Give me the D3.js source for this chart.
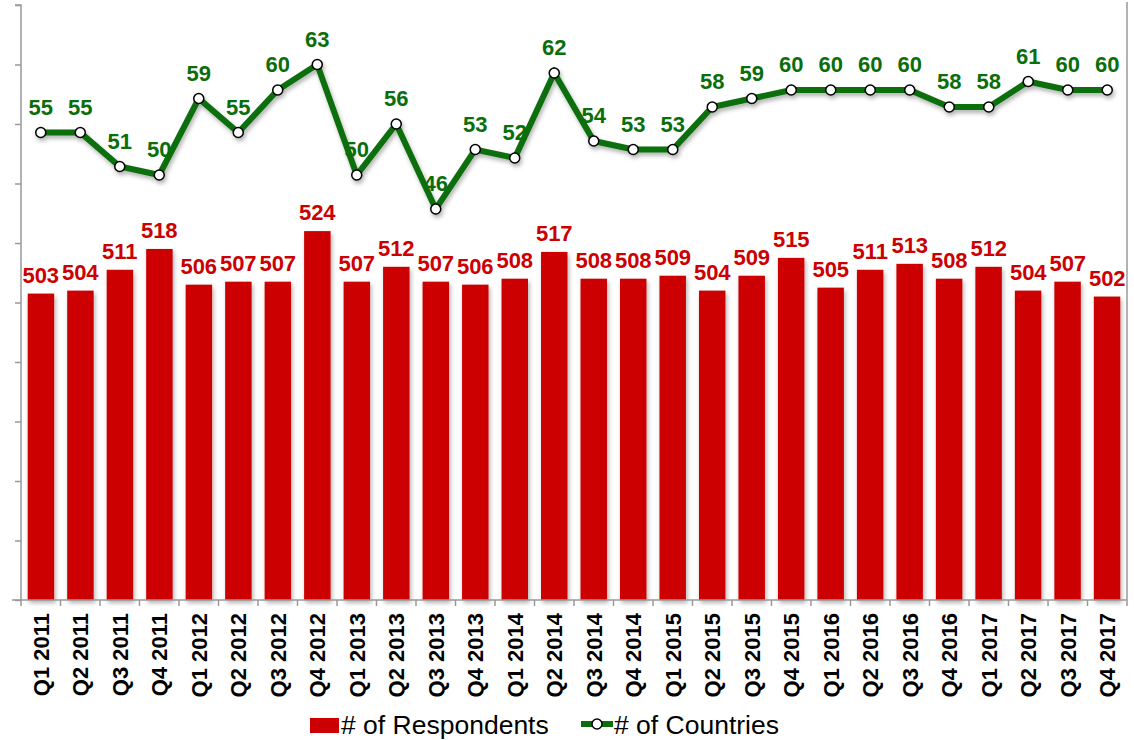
<!DOCTYPE html>
<html>
<head>
<meta charset="utf-8">
<script src="https://cdn.jsdelivr.net/npm/d3@7"></script>
<style>
  html, body { margin: 0; padding: 0; background: #fff; }
  svg { display: block; font-family: "Liberation Sans", Arial, sans-serif; }
</style>
</head>
<body>
<svg id="chart" width="1134" height="740"></svg>
<script>
const categories = ["Q1 2011","Q2 2011","Q3 2011","Q4 2011","Q1 2012","Q2 2012","Q3 2012","Q4 2012",
  "Q1 2013","Q2 2013","Q3 2013","Q4 2013","Q1 2014","Q2 2014","Q3 2014","Q4 2014",
  "Q1 2015","Q2 2015","Q3 2015","Q4 2015","Q1 2016","Q2 2016","Q3 2016","Q4 2016",
  "Q1 2017","Q2 2017","Q3 2017","Q4 2017"];
const respondents = [503,504,511,518,506,507,507,524,507,512,507,506,508,517,508,508,509,504,509,515,505,511,513,508,512,504,507,502];
const countries = [55,55,51,50,59,55,60,63,50,56,46,53,52,62,54,53,53,58,59,60,60,60,60,58,58,61,60,60];
const leftDomain = [400, 600];
const leftTicks = [400,420,440,460,480,500,520,540,560,580,600];
const rightDomain = [0, 70];

const svg = d3.select("#chart");
const plot = { left: 21, right: 1127, top: 5, bottom: 600 };
const red = "#cc0000", green = "#0a6e0a";

const defs = svg.append("defs");
const f = defs.append("filter").attr("id","shadow").attr("x","-20%").attr("y","-20%").attr("width","140%").attr("height","160%");
f.append("feDropShadow").attr("dx",1.5).attr("dy",3).attr("stdDeviation",2).attr("flood-color","#000").attr("flood-opacity",0.3);

const x = d3.scaleBand().domain(categories).range([plot.left, plot.right]).paddingInner(0.33).paddingOuter(0.17);
const xb = d3.scaleBand().domain(categories).range([plot.left, plot.right]);
const y = d3.scaleLinear().domain(leftDomain).range([plot.bottom, plot.top]);
const y2 = d3.scaleLinear().domain(rightDomain).range([plot.bottom, plot.top]);

// right border
svg.append("line").attr("x1", plot.right).attr("x2", plot.right).attr("y1", plot.top - 3).attr("y2", plot.bottom)
  .attr("stroke", "#999").attr("stroke-width", 1.5);

// bars
svg.append("g").selectAll("rect").data(respondents).join("rect")
  .attr("x", (d,i) => x(categories[i]))
  .attr("width", x.bandwidth())
  .attr("y", d => y(d))
  .attr("height", d => plot.bottom - y(d))
  .attr("fill", red)
  .attr("filter", "url(#shadow)");

svg.append("g").selectAll("text").data(respondents).join("text")
  .attr("x", (d,i) => xb(categories[i]) + xb.bandwidth()/2)
  .attr("y", d => y(d) - 11)
  .attr("text-anchor", "middle")
  .attr("font-size", 22).attr("font-weight", "bold").attr("fill", red)
  .text(d => d);

// left axis
const yAxis = d3.axisLeft(y).tickValues(leftTicks).tickSize(6).tickFormat("");
const gy = svg.append("g").attr("transform", `translate(${plot.left},0)`).call(yAxis);
gy.selectAll("line").attr("stroke", "#999").attr("stroke-width", 1.5);
gy.select(".domain").attr("stroke", "#999").attr("stroke-width", 1.5).attr("d", `M-6,${plot.top}H0V${plot.bottom}`);

// bottom axis
const xAxis = d3.axisBottom(xb).tickSize(0).tickFormat("");
const gx = svg.append("g").attr("transform", `translate(0,${plot.bottom})`).call(xAxis);
gx.select(".domain").attr("stroke", "#999").attr("stroke-width", 1.5).attr("d", `M12,0H${plot.right}`);
gx.selectAll(".tick").remove();
gx.append("g").selectAll("line").data(categories.concat(["__end"])).join("line")
  .attr("x1", (d,i) => plot.left + i * xb.step()).attr("x2", (d,i) => plot.left + i * xb.step())
  .attr("y1", 0).attr("y2", 6).attr("stroke", "#999").attr("stroke-width", 1.5);

svg.append("g").selectAll("text").data(categories).join("text")
  .attr("transform", d => `translate(${xb(d) + xb.bandwidth()/2 + 8},${plot.bottom + 13}) rotate(-90)`)
  .attr("text-anchor", "end")
  .attr("font-size", 22).attr("font-weight", "bold").attr("fill", "#000")
  .text(d => d);

// line
const line = d3.line().x((d,i) => xb(categories[i]) + xb.bandwidth()/2).y(d => y2(d));
const lg = svg.append("g").attr("filter", "url(#shadow)");
lg.append("path").datum(countries).attr("d", line).attr("fill", "none").attr("stroke", green)
  .attr("stroke-width", 6).attr("stroke-linejoin", "miter");
lg.selectAll("circle").data(countries).join("circle")
  .attr("cx", (d,i) => xb(categories[i]) + xb.bandwidth()/2)
  .attr("cy", d => y2(d)).attr("r", 5)
  .attr("fill", "#fff").attr("stroke", "#000").attr("stroke-width", 1.5);

svg.append("g").selectAll("text").data(countries).join("text")
  .attr("x", (d,i) => xb(categories[i]) + xb.bandwidth()/2)
  .attr("y", d => y2(d) - 18)
  .attr("text-anchor", "middle")
  .attr("font-size", 22).attr("font-weight", "bold").attr("fill", green)
  .text(d => d);

// legend
const leg = svg.append("g");
leg.append("rect").attr("x", 310).attr("y", 718).attr("width", 29).attr("height", 15).attr("fill", red);
leg.append("text").attr("x", 341).attr("y", 734).attr("font-size", 26.5).attr("fill", "#000").text("# of Respondents");
leg.append("line").attr("x1", 581).attr("x2", 613).attr("y1", 724).attr("y2", 724).attr("stroke", green).attr("stroke-width", 6);
leg.append("circle").attr("cx", 597).attr("cy", 724).attr("r", 5).attr("fill", "#fff").attr("stroke", "#000").attr("stroke-width", 1.5);
leg.append("text").attr("x", 614).attr("y", 734).attr("font-size", 26.5).attr("fill", "#000").text("# of Countries");
</script>
</body>
</html>
